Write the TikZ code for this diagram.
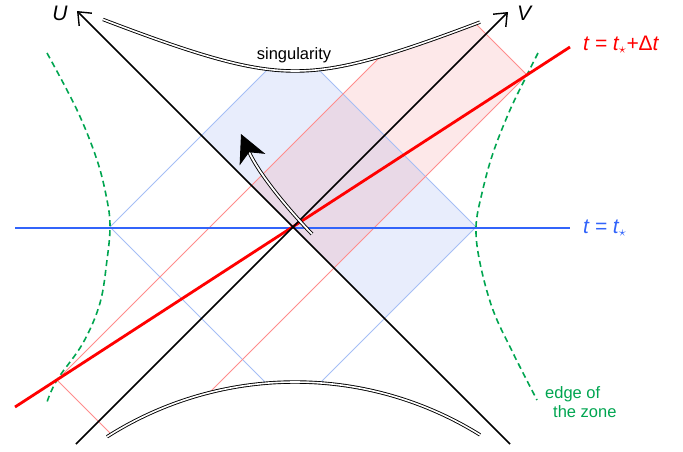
\documentclass[tikz,border=0pt]{standalone}
\usepackage{fontspec}
\setmainfont{Liberation Sans}
\usetikzlibrary{arrows.meta}
\definecolor{tblue}{RGB}{50,100,250}
\definecolor{lblue}{RGB}{165,190,245}
\definecolor{dblue}{RGB}{110,145,235}
\definecolor{lred}{RGB}{255,140,140}
\definecolor{dred}{RGB}{240,110,120}
\definecolor{zgreen}{RGB}{0,165,80}
\tikzset{
  thinblue/.style={lblue, line width=0.8pt},
  thinred/.style={lred, line width=0.8pt},
  nullline/.style={black, line width=1.5pt, -{Straight Barb[length=11pt,width=18pt,line width=1.4pt]}},
  sing/.style={draw=black, double=white, double distance=1.6pt, line width=0.9pt},
  zone/.style={zgreen, line width=1.6pt, dash pattern=on 6pt off 4pt},
  bluefill/.style={fill=dblue, fill opacity=0.16},
  redfill/.style={fill=dred, fill opacity=0.16},
  lbl/.style={font=\fontsize{21}{24}\selectfont\itshape, inner sep=0pt},
  small/.style={font=\fontsize{16.5}{19}\selectfont, inner sep=0pt}
}
\begin{document}
\begin{tikzpicture}[x=1pt,y=-1pt]
\useasboundingbox (0,0) rectangle (683,451);
% key points
\coordinate (C) at (293,227);
\coordinate (bL) at (110,227);
\coordinate (bR) at (476,227);
\coordinate (bT) at (293,44);
\coordinate (bB) at (293,410);
\coordinate (rL) at (57,380);
\coordinate (rR) at (527,75);
% shaded regions and thin lines, clipped between the singularities
\begin{scope}
\clip plot[domain=0:640,samples=90] (\x,{71-38*(sqrt(1+((\x-295)/90)^2)-1)})
   -- plot[domain=640:0,samples=90] (\x,{382+350*(1-sqrt(1-((\x-295)/350)^2))}) -- cycle;
\fill[bluefill] (201.5,135.5) -- (bT) -- (bR) -- (384.5,318.5) -- cycle;
\fill[redfill] (251.5,185.5) -- (444.5,-7.5) -- (rR) -- (334,268) -- cycle;
\draw[thinblue] (bL) -- (bT) -- (bR) -- (bB) -- cycle;
\coordinate (rA) at (457,-20);
\coordinate (rB) at (157,480);
\coordinate (rC) at (127,475);
\coordinate (rD) at (452,0);
\draw[thinred] (rL) -- (rA);
\draw[thinred] (rL) -- (rB);
\draw[thinred] (rR) -- (rC);
\draw[thinred] (rR) -- (rD);
\end{scope}
% edge of the zone
\draw[zone] plot[smooth,tension=0.6] coordinates {(47,53) (77,110) (97,160) (107,200) (110,227) (107,260) (100,303) (83,343) (57,380) (47,402)};
\draw[zone] plot[smooth,tension=0.6] coordinates {(538,53) (527,75) (510,110) (493,153) (482,193) (476,227) (480,263) (493,310) (513,353) (537,400)};
% time slices
\coordinate (b1) at (15,228);
\coordinate (b2) at (570,228);
\draw[tblue, line width=2.8pt] (b1) -- (b2);
\coordinate (r1) at (15,407);
\coordinate (r2) at (570,47);
\draw[red, line width=2.8pt] (r1) -- (r2);
% null axes
\coordinate (u0) at (510,444);
\coordinate (u1) at (77,11);
\coordinate (v0) at (76,444);
\coordinate (v1) at (508,12);
\draw[nullline] (u0) -- (u1);
\draw[nullline] (v0) -- (v1);
% singularities
\draw[sing] plot[domain=103:480,samples=80] (\x,{71-38*(sqrt(1+((\x-295)/90)^2)-1)});
\draw[sing] plot[domain=107:480,samples=80] (\x,{382+350*(1-sqrt(1-((\x-295)/350)^2))});
% curved arrow
\coordinate (as) at (312,234);
\coordinate (ae) at (241,134);
\draw[sing, double distance=1.8pt, -{Stealth[length=28pt,width=28pt,inset=8pt]}] (as) .. controls (285,206) and (258,172) .. (ae);
% labels
\node[lbl] (U) at (60,13) {U};
\node[lbl] (V) at (524,13) {V};
\node[small] (singl) at (294,55) {singularity};
\node[lbl, red, anchor=west] (lt2) at (583,45) {t = t$_\star$+{\upshape Δ}t};
\node[lbl, tblue, anchor=west] (lt1) at (583,228) {t = t$_\star$};
\node[small, zgreen, align=left, anchor=north west] (edge) at (545,386) {edge of\\\hspace*{8pt}the zone};
\end{tikzpicture}
\end{document}
